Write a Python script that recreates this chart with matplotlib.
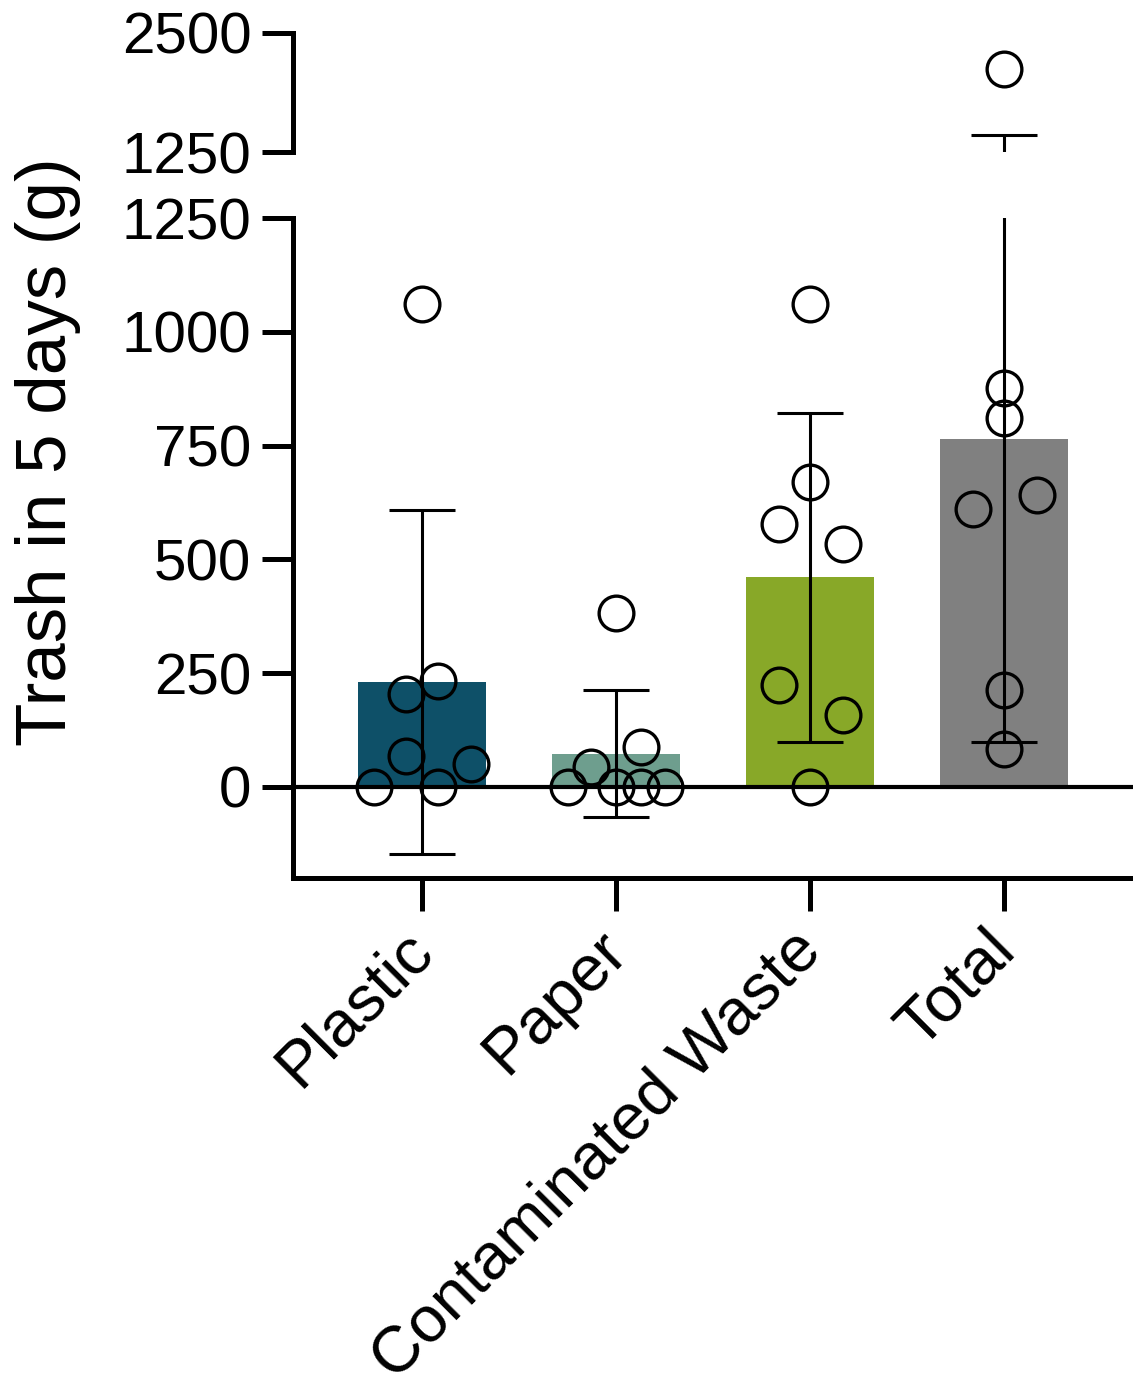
import numpy as np
import matplotlib
matplotlib.use('Agg')
import matplotlib.pyplot as plt
from matplotlib.transforms import ScaledTranslation

plt.rcParams['font.family'] = ['Liberation Sans', 'DejaVu Sans']

categories = ['Plastic', 'Paper', 'Contaminated Waste', 'Total']
colors = ['#0e5068', '#6e9e8e', '#88a828', '#808080']

plastic = [1061, 233, 204, 68, 51, 0, 0]
paper = [382, 88, 44, 0, 0, 0, 0]
contaminated = [1061, 669, 577, 534, 224, 159, 0]
total = [2120, 877, 811, 641, 611, 213, 84]

# x offsets of the scattered points (in category units)
plastic_dx = [0, 0.08, -0.08, -0.08, 0.25, -0.25, 0.08]
paper_dx = [0, 0.13, -0.13, -0.25, 0, 0.13, 0.25]
contaminated_dx = [0, 0, -0.16, 0.17, -0.16, 0.17, 0]
total_dx = [0, 0, 0, 0.17, -0.16, 0, 0]

groups = [plastic, paper, contaminated, total]
offsets = [plastic_dx, paper_dx, contaminated_dx, total_dx]
means = [np.mean(g) for g in groups]
sds = [np.std(g, ddof=1) for g in groups]
x = np.arange(len(categories))

W, H = 1133, 1388
fig = plt.figure(figsize=(W / 100, H / 100), dpi=100)
left, right = 293 / W, 1.0
ax_top = fig.add_axes([left, (H - 152) / H, right - left, (152 - 33) / H])
ax = fig.add_axes([left, (H - 878) / H, right - left, (878 - 218) / H])

spine_lw = 3.6
for a, lo in ((ax, -1e9), (ax_top, 1250)):
    a.bar(x, means, width=0.66, color=colors, zorder=1)
    a.errorbar(x, means, yerr=sds, fmt='none', ecolor='black',
               elinewidth=2.2, capsize=24, capthick=2.2, zorder=2)
    for xi, g, dx in zip(x, groups, offsets):
        g = np.array(g, dtype=float)
        keep = g > lo
        a.plot(xi + np.array(dx)[keep], g[keep], 'o', ms=25, mfc='none',
               mec='black', mew=2.4, zorder=3)
    a.set_xlim(-0.665, 3.665)
    for s in ('top', 'right'):
        a.spines[s].set_visible(False)
    a.spines['left'].set_linewidth(spine_lw)
    a.tick_params(axis='y', length=22, width=spine_lw, labelsize=42, pad=8)

ax.axhline(0, color='black', lw=3.0, zorder=2)
ax.set_ylim(-200, 1250)
ax.set_yticks([0, 250, 500, 750, 1000, 1250])
ax.spines['left'].set_bounds(-200, 1250)
ax.spines['bottom'].set_linewidth(spine_lw)
ax.set_xticks(x)
ax.set_xticklabels(categories, rotation=45, ha='right',
                   rotation_mode='anchor', fontsize=47)
ax.tick_params(axis='x', length=24, width=spine_lw, pad=10)
shift = ScaledTranslation(-0.2, 0.06, fig.dpi_scale_trans)
for lab in ax.get_xticklabels():
    lab.set_transform(lab.get_transform() + shift)

ax_top.set_ylim(1250, 2500)
ax_top.set_yticks([1250, 2500])
ax_top.spines['bottom'].set_visible(False)
ax_top.set_xticks([])

fig.text(48 / W, (H - 452) / H, 'Trash in 5 days (g)', rotation=90,
         fontsize=51, ha='center', va='center')

fig.savefig('out.png', dpi=100)
